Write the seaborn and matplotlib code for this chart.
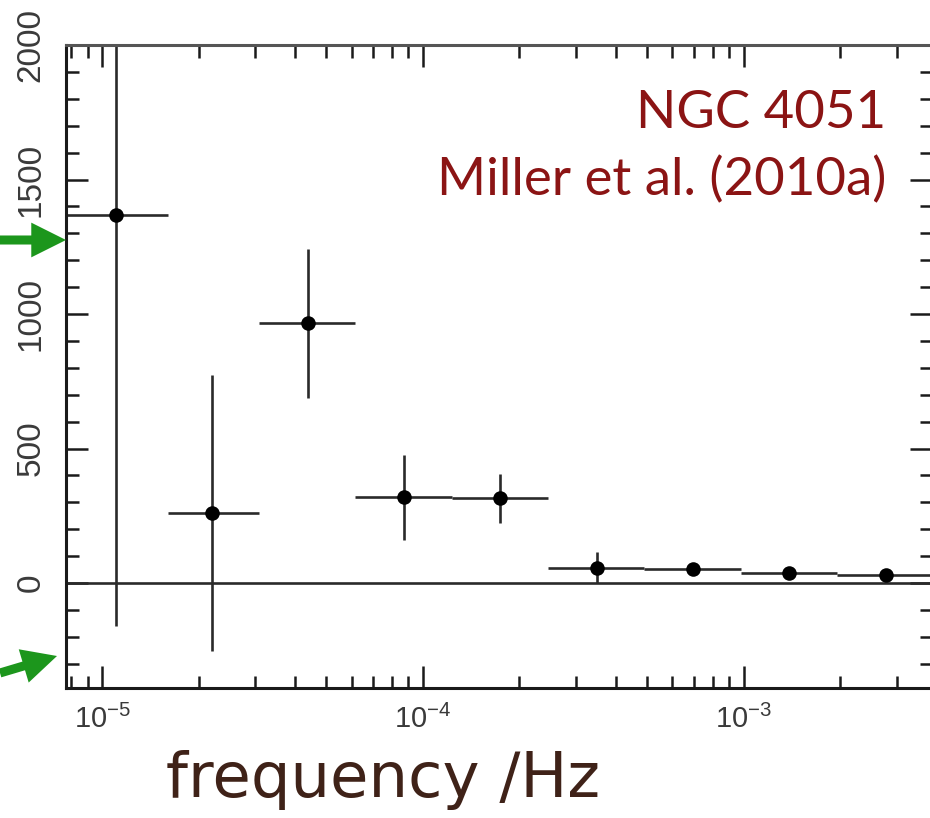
import matplotlib
matplotlib.use("Agg")
import matplotlib.pyplot as plt
import seaborn as sns
import pandas as pd
import numpy as np
from matplotlib.patches import FancyArrowPatch
from matplotlib.ticker import FixedLocator, NullFormatter, MultipleLocator

# ---- data ----
freq = [1.10e-5, 2.19e-5, 4.39e-5, 8.7e-5, 1.74e-4, 3.48e-4, 6.95e-4, 1.39e-3, 2.79e-3]
power = [1367, 261, 965, 320, 317, 56, 52, 37, 30]
err_lo = [1527, 514, 276, 160, 94, 56, 8, 5, 5]
err_hi = [1400, 514, 275, 157, 89, 59, 8, 5, 5]
bin_lo = [7.6e-6, 1.6e-5, 3.07e-5, 6.15e-5, 1.23e-4, 2.46e-4, 4.9e-4, 9.8e-4, 1.96e-3]
bin_hi = [1.6e-5, 3.07e-5, 6.15e-5, 1.23e-4, 2.46e-4, 4.9e-4, 9.8e-4, 1.96e-3, 3.95e-3]
xtick_vals = [1e-5, 1e-4, 1e-3]
xtick_labels = ["10$^{-5}$", "10$^{-4}$", "10$^{-3}$"]
ytick_vals = [0, 500, 1000, 1500, 2000]
title_lines = ["NGC 4051", "Miller et al. (2010a)"]
xlabel_text = "frequency /Hz"

df = pd.DataFrame({"freq": freq, "power": power})

sns.set_theme(style="ticks")
plt.rcParams["font.family"] = ["Liberation Sans", "DejaVu Sans"]
plt.rcParams["mathtext.fontset"] = "custom"
plt.rcParams["mathtext.rm"] = "Liberation Sans"
plt.rcParams["mathtext.default"] = "regular"

W, H = 930, 818
fig = plt.figure(figsize=(9.3, 8.18), dpi=100)
ax_l, ax_r, ax_t, ax_b = 66, 932, 45, 688
ax = fig.add_axes([ax_l / W, (H - ax_b) / H, (ax_r - ax_l) / W, (ax_b - ax_t) / H])

line_col = "#2a2a2a"
xerr = [np.array(freq) - np.array(bin_lo), np.array(bin_hi) - np.array(freq)]
ax.errorbar(freq, power, yerr=[err_lo, err_hi], xerr=xerr, fmt="none",
            ecolor=line_col, elinewidth=1.9, capsize=0, zorder=2)
sns.scatterplot(data=df, x="freq", y="power", ax=ax, color="black", s=110,
                edgecolor="black", linewidth=0, zorder=3, legend=False)
ax.axhline(0, color=line_col, lw=1.9, zorder=1)

ax.set_xscale("log")
ax.set_xlim(7.7e-6, 3.87e-3)
ax.set_ylim(-390, 2000)

ax.set_xticks(xtick_vals)
ax.set_xticklabels(xtick_labels)
ax.xaxis.set_minor_locator(FixedLocator(
    [m * 10.0 ** e for e in range(-6, -2) for m in range(2, 10)]))
ax.xaxis.set_minor_formatter(NullFormatter())
ax.set_yticks(ytick_vals)
ax.set_yticklabels([str(v) for v in ytick_vals])
ax.yaxis.set_minor_locator(MultipleLocator(100))

ax.tick_params(which="both", direction="in", top=True, right=True,
               color="#1a1a1a", width=1.8)
ax.tick_params(which="major", length=16)
ax.tick_params(which="minor", length=9)
ax.tick_params(axis="x", labelsize=21, pad=12, labelcolor="#3a3a3a")
ax.tick_params(axis="y", labelsize=24, pad=14, labelcolor="#3a3a3a")
for lab in ax.get_yticklabels():
    lab.set_rotation(90)
    lab.set_va("center")
    lab.set_ha("right")

for s in ax.spines.values():
    s.set_linewidth(2.2)
    s.set_color("#1a1a1a")
ax.spines["top"].set_color("#555555")
ax.set_xlabel("")
ax.set_ylabel("")

tcol = "#8b1414"
fig.text(886 / W, 1 - 128 / H, title_lines[0], ha="right", va="baseline",
         fontsize=38, color=tcol, family=["Lato", "DejaVu Sans"])
fig.text(886 / W, 1 - 195 / H, title_lines[1], ha="right", va="baseline",
         fontsize=38, color=tcol, family=["Lato", "DejaVu Sans"])

fig.text(383 / W, 1 - 797 / H, xlabel_text, ha="center", va="baseline",
         fontsize=45, color="#3f2218", family=["DejaVu Sans"])

green = "#1c961c"
for (x0, y0), (x1, y1) in [((0, 240), (66, 240)), ((0, 673), (57, 656))]:
    arr = FancyArrowPatch((x0 / W, 1 - y0 / H), (x1 / W, 1 - y1 / H),
                          transform=fig.transFigure, shrinkA=0, shrinkB=0,
                          arrowstyle="simple,head_width=1.0,head_length=1.0,tail_width=0.26",
                          mutation_scale=25, color=green, lw=0, clip_on=False)
    fig.patches.append(arr)

fig.savefig("out.png", dpi=100)
